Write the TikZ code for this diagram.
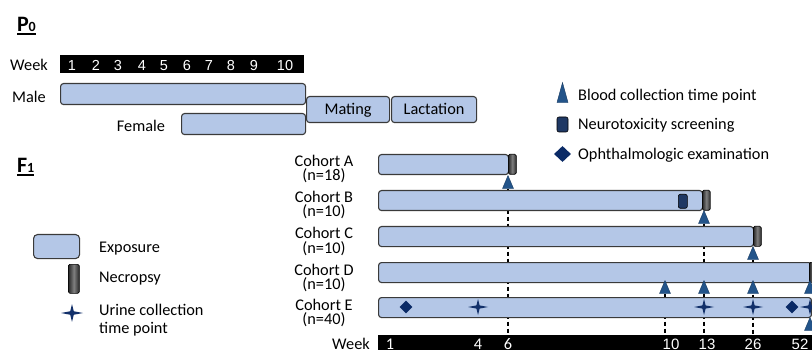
\documentclass[tikz,border=0pt]{standalone}
\usepackage{fontspec}
\setmainfont{Carlito}
\newfontfamily\arialf{Liberation Sans}
\usetikzlibrary{shapes.geometric,backgrounds}
\definecolor{barfill}{HTML}{B4C7E7}
\definecolor{barline}{HTML}{3A3A3A}
\definecolor{bloodcol}{HTML}{23548A}
\definecolor{navy}{HTML}{0A2A66}
\definecolor{starcol}{HTML}{12306A}
\definecolor{neurocol}{HTML}{1F3864}
\begin{document}
\begin{tikzpicture}[x=1pt,y=-1pt,
 txt/.style={font=\fontsize{16.3}{14}\selectfont, inner sep=0pt},
 num/.style={font=\arialf\fontsize{14.5}{14}\selectfont, text=white, inner sep=0pt, anchor=base},
 bnum/.style={font=\fontsize{16.3}{14}\selectfont, text=white, inner sep=0pt, anchor=base},
 anum/.style={font=\arialf\fontsize{15}{14}\selectfont, text=white, inner sep=0pt, anchor=base},
 expbar/.style={draw=barline, line width=1.1pt, fill=barfill, rounded corners=3pt, inner sep=0pt, anchor=north west, minimum height=20pt},
 boxtext/.style={font=\fontsize{16.3}{14}\selectfont, text height=10.5pt, text depth=0pt},
 necro/.style={draw=black, line width=0.6pt, rounded corners=1.5pt, left color=black!85, right color=black!85, middle color=black!50, inner sep=0pt, minimum width=8pt, minimum height=20pt, anchor=north west},
 neuro/.style={draw=black, line width=0.6pt, rounded corners=2pt, fill=neurocol, inner sep=0pt},
 blood/.style={isosceles triangle, shape border rotate=90, isosceles triangle stretches, fill=bloodcol, draw=bloodcol!70!black, line width=0.4pt, inner sep=0pt, minimum width=11pt, minimum height=13pt, anchor=apex},
 ophth/.style={diamond, fill=navy, inner sep=0pt, minimum width=13pt, minimum height=13pt},
 weekbar/.style={fill=black, inner sep=0pt, anchor=north west},
 vdash/.style={draw=black, line width=1.3pt, dash pattern=on 4pt off 3pt},
 title/.style={font=\bfseries\fontsize{22}{22}\selectfont, inner sep=0pt, outer sep=0pt, anchor=base west},
 ustar/.pic={\fill[starcol] (-10,0) -- (-1.6,-1.6) -- (0,-8) -- (1.6,-1.6) -- (10,0) -- (1.6,1.6) -- (0,8) -- (-1.6,1.6) -- cycle;}
]
\clip (0,0) rectangle (812,350);

% ---------- P0 ----------
\node[title] (P0) at (17,32) {P{\fontsize{14}{14}\selectfont 0}};
\draw[line width=1.4pt] ([yshift=-2pt]P0.base west) -- ([yshift=-2pt]P0.base east);

\node[weekbar, minimum width=244pt, minimum height=18pt] (wk0) at (60,55) {};
\node[txt, anchor=base] (wk0l) at (29,71) {Week};
\foreach \n/\x in {1/72,2/96,3/118,4/142,5/164,6/187,7/209,8/231,9/254,10/285}
  \node[num] (p\n) at (\x,71) {\n};

\node[expbar, minimum width=245pt, minimum height=21pt] (male) at (60,83) {};
\node[txt, anchor=base] (malel) at (29,103) {Male};
\node[expbar, minimum width=124pt, minimum height=21pt] (female) at (181,113) {};
\node[txt, anchor=base] (femalel) at (141,132) {Female};
\node[expbar, boxtext, minimum width=83pt, minimum height=26pt] (mating) at (306,96) {Mating};
\node[expbar, boxtext, minimum width=85pt, minimum height=26pt] (lact) at (391,96) {Lactation};

% ---------- right legend ----------
\node[blood, minimum height=20pt, minimum width=11pt] (lblood) at (562.5,82) {};
\node[txt, anchor=base west] (lbloodt) at (578,101) {Blood collection time point};
\node[neuro, minimum width=11pt, minimum height=15pt] (lneuro) at (562.5,124.5) {};
\node[txt, anchor=base west] (lneurot) at (578,130) {Neurotoxicity screening};
\node[ophth, minimum width=17pt, minimum height=16pt] (lophth) at (562.5,154) {};
\node[txt, anchor=base west] (lophtht) at (578,160) {Ophthalmologic examination};

% ---------- F1 ----------
\node[title] (F1) at (17,173) {F{\fontsize{14}{14}\selectfont 1}};
\draw[line width=1.4pt] ([yshift=-2pt]F1.base west) -- ([yshift=-2pt]F1.base east);

% left legend
\node[expbar, minimum width=46pt, minimum height=24pt, rounded corners=4pt] (lexp) at (33,234) {};
\node[txt, anchor=base west] (lexpt) at (99,252) {Exposure};
\node[necro, minimum width=11pt, minimum height=29pt] (lnec) at (68,264) {};
\node[txt, anchor=base west] (lnect) at (99,282) {Necropsy};
\pic[scale=1.1] (lstar) at (72,313) {ustar};
\node[txt, anchor=base west] (lstart1) at (99,315) {Urine collection};
\node[txt, anchor=base west] (lstart2) at (99,333) {time point};

% cohort labels
\node[txt, anchor=base] (cA1) at (324,167) {Cohort A};
\node[txt, anchor=base] (cA2) at (324,181) {(n=18)};
\node[txt, anchor=base] (cB1) at (324,203) {Cohort B};
\node[txt, anchor=base] (cB2) at (324,217) {(n=10)};
\node[txt, anchor=base] (cC1) at (324,239) {Cohort C};
\node[txt, anchor=base] (cC2) at (324,253) {(n=10)};
\node[txt, anchor=base] (cD1) at (324,275) {Cohort D};
\node[txt, anchor=base] (cD2) at (324,289) {(n=10)};
\node[txt, anchor=base] (cE1) at (324,310) {Cohort E};
\node[txt, anchor=base] (cE2) at (324,324) {(n=40)};

% bottom week bar
\node[weekbar, minimum width=440pt, minimum height=20pt] (wkbar) at (378,335) {};
\node[txt, anchor=base] (wkl) at (351,349) {Week};
\node[bnum] (w1) at (390,349) {1};
\node[bnum] (w4) at (478,349) {4};
\node[bnum] (w6) at (508,349) {6};
\node[anum] (w10) at (671,349) {10};
\node[anum] (w13) at (707,349) {13};
\node[anum] (w26) at (753,349) {26};
\node[anum] (w52) at (800,349) {52};

% cohort bars
\node[expbar, minimum width=130pt] (barA) at (378,154) {};
\node[necro] (necA) at (508,154) {};
\node[expbar, minimum width=324pt] (barB) at (378,190) {};
\node[neuro, minimum width=9pt, minimum height=14pt, anchor=north west] (neuB) at (678,194) {};
\node[necro] (necB) at (702,190) {};
\node[expbar, minimum width=375pt] (barC) at (378,226) {};
\node[necro] (necC) at (753,226) {};
\node[expbar, minimum width=433pt] (barD) at (378,262) {};
\node[necro] (necD) at (809,262) {};
\node[expbar, minimum width=433pt] (barE) at (378,297) {};

% blood collection points
\node[blood] (tA) at (508,175) {};
\node[blood] (tB) at (704,210) {};
\node[blood] (tC) at (753,246) {};
\node[blood] (tD10) at (665,280) {};
\node[blood] (tD13) at (704,280) {};
\node[blood] (tD26) at (753,280) {};
\node[blood] (tD52) at (810,280) {};
\node[blood] (tE52) at (810,317) {};

% cohort E markers
\node[ophth] (oE1) at (406,307) {};
\node[ophth] (oE52) at (792,307) {};
\pic (sE4) at (478,307) {ustar};
\pic (sE13) at (704,307) {ustar};
\pic (sE26) at (753,307) {ustar};
\pic (sE52) at (810,307) {ustar};

% dashed guides (behind)
\begin{pgfonlayer}{background}
\fill[white] (0,0) rectangle (812,350);
\draw[vdash] (tA.south) -- (tA.south |- wkbar.north);
\draw[vdash] (tB.south) -- (tB.south |- wkbar.north);
\draw[vdash] (tC.south) -- (tC.south |- wkbar.north);
\draw[vdash] (tD10.south) -- (tD10.south |- wkbar.north);
\end{pgfonlayer}
\end{tikzpicture}
\end{document}
